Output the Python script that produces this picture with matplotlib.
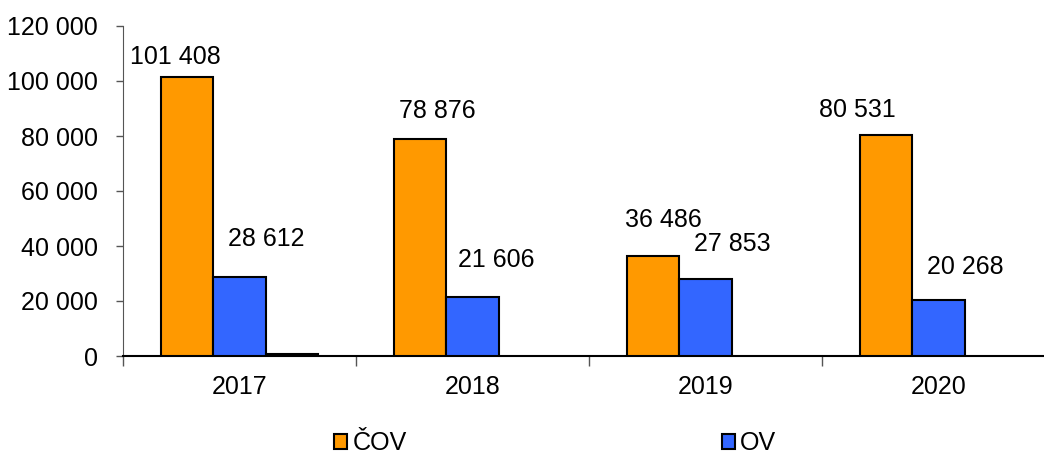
import matplotlib
matplotlib.use("Agg")
import matplotlib.pyplot as plt
from matplotlib.patches import Patch
from matplotlib.ticker import FuncFormatter, FixedLocator
import numpy as np

plt.rcParams['font.family'] = ['Liberation Sans', 'DejaVu Sans']

years = ["2017", "2018", "2019", "2020"]
cov = [101408, 78876, 36486, 80531]
ov = [28612, 21606, 27853, 20268]
other = [700, np.nan, np.nan, np.nan]

# label offsets in pixels (style)
cov_dx = [-12, 17, 10, -29]
cov_dy = [8, 16, 24, 13]
ov_dx = [27, 24, 27, 27]
ov_dy = [26, 25, 23, 21]

W, H = 1044, 455
fig = plt.figure(figsize=(W / 100, H / 100), dpi=100)
ax = fig.add_axes([123 / W, 99 / H, 4 * 233 / W, 330 / H])

x = np.arange(len(years))
bw = 0.224
c_or = '#FF9900'
c_bl = '#3366FF'
ax.bar(x - bw, cov, bw, color=c_or, edgecolor='black', linewidth=1.5, zorder=3)
ax.bar(x, ov, bw, color=c_bl, edgecolor='black', linewidth=1.5, zorder=3)
ax.bar(x + bw, other, bw, color='black', edgecolor='black', linewidth=1.5, zorder=3)

fmt = lambda v: f"{int(round(v)):,}".replace(",", " ")
fs = 18
for i in range(len(years)):
    ax.annotate(fmt(cov[i]), (x[i] - bw, cov[i]), xytext=(cov_dx[i] * 0.72, cov_dy[i] * 0.72),
                textcoords='offset points', ha='center', va='bottom', fontsize=fs)
    ax.annotate(fmt(ov[i]), (x[i], ov[i]), xytext=(ov_dx[i] * 0.72, ov_dy[i] * 0.72),
                textcoords='offset points', ha='center', va='bottom', fontsize=fs)

ax.set_xlim(-0.5, 3.5)
ax.set_ylim(0, 120000)
ax.set_yticks(np.arange(0, 120001, 20000))
ax.yaxis.set_major_formatter(FuncFormatter(lambda v, p: fmt(v)))
ax.tick_params(axis='y', labelsize=fs, direction='out', length=5, width=1, color='#555555', pad=13)
ax.set_xticks(x)
ax.set_xticklabels(years)
ax.tick_params(axis='x', which='major', length=0, labelsize=fs, pad=14)
ax.xaxis.set_minor_locator(FixedLocator([-0.5, 0.5, 1.5, 2.5, 3.5]))
ax.tick_params(axis='x', which='minor', direction='out', length=7, width=1, color='#555555')
for s in ['top', 'right']:
    ax.spines[s].set_visible(False)
ax.spines['left'].set_color('#555555')
ax.spines['bottom'].set_color('black')
ax.spines['bottom'].set_linewidth(1.5)

handles = [Patch(facecolor=c_or, edgecolor='black', linewidth=1.5, label='ČOV'),
           Patch(facecolor=c_bl, edgecolor='black', linewidth=1.5, label='OV')]
fig.legend(handles=handles, loc='center', bbox_to_anchor=(555 / W, 1 - 443 / H), ncol=2,
           frameon=False, fontsize=fs, handlelength=0.55, handleheight=0.55,
           handletextpad=0.2, columnspacing=12.6)

fig.savefig('out.png', dpi=100)
